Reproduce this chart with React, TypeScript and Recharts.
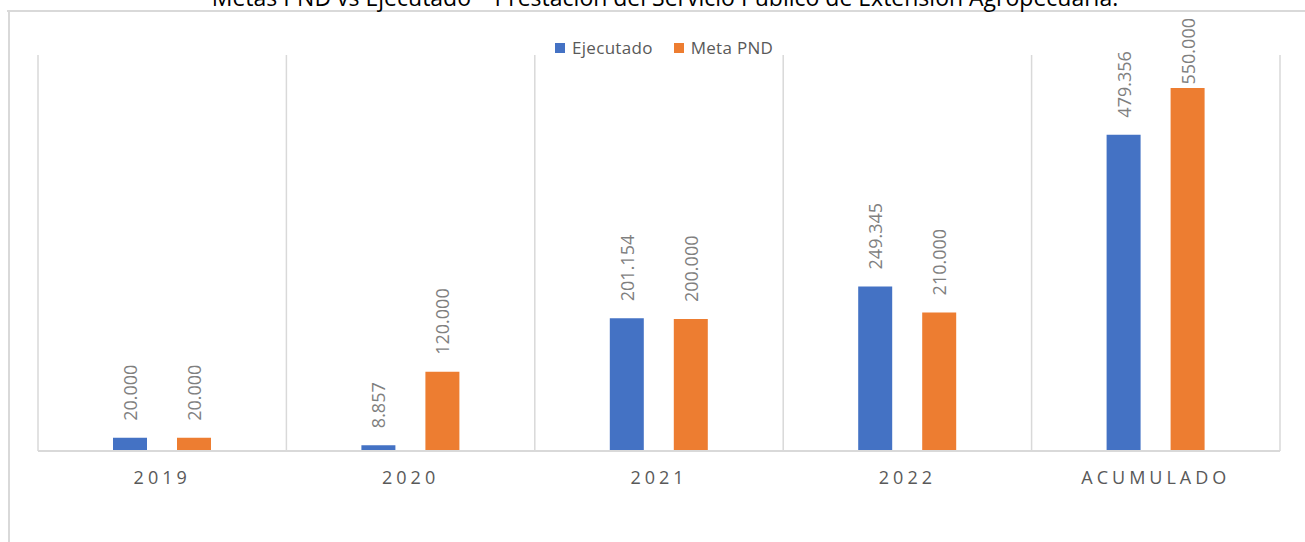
import React from "react";
import { BarChart, Bar, XAxis, YAxis, CartesianGrid, LabelList } from "recharts";

const categories = ["2019", "2020", "2021", "2022", "ACUMULADO"];
const ejecutado = [20000, 8857, 201154, 249345, 479356];
const metaPND = [20000, 120000, 200000, 210000, 550000];
const seriesNames = ["Ejecutado", "Meta PND"];
const seriesColors = ["#4472C4", "#ED7D31"];
const titleText = "Metas PND vs Ejecutado – Prestación del Servicio Público de Extensión Agropecuaria.";

const data = categories.map((c, i) => ({ name: c, ejecutado: ejecutado[i], meta: metaPND[i] }));

const fmt = (v: number) => v.toString().replace(/\B(?=(\d{3})+(?!\d))/g, ".");

const W = 1305;
const H = 542;
const FONT = "'Open Sans', sans-serif";
const LABEL_MIN_TOP = 18;

const RotLabel = (props: any) => {
  const { x, y, width, value } = props;
  const txt = fmt(Number(value));
  const cx = Number(x) + Number(width) / 2;
  const approxLen = txt.length * 9.5;
  const ty = Math.max(Number(y) - 17, LABEL_MIN_TOP + approxLen);
  return (
    <text
      x={cx}
      y={ty}
      transform={`rotate(-90 ${cx} ${ty})`}
      textAnchor="start"
      dominantBaseline="central"
      fill="#7f7f7f"
      fontSize={18}
      fontFamily={FONT}
    >
      {txt}
    </text>
  );
};

const Tick = (props: any) => {
  const { x, y, payload } = props;
  return (
    <text
      x={x}
      y={y}
      dy={25}
      textAnchor="middle"
      fill="#595959"
      fontSize={18}
      fontFamily={FONT}
      letterSpacing={4}
    >
      {payload.value}
    </text>
  );
};

export default function App() {
  return (
    <div style={{ position: "absolute", left: 0, top: 0, width: W, height: H, background: "#fff" }}>
      <BarChart
        width={W}
        height={H}
        data={data}
        margin={{ top: 55, right: 25, bottom: 61, left: 38 }}
        barSize={34}
        barGap={30}
      >
        <CartesianGrid
          horizontal={false}
          vertical={true}
          stroke="#d9d9d9"
          strokeWidth={1.5}
          verticalCoordinatesGenerator={({ offset }: any) =>
            categories.map((_, i) => offset.left + (i * offset.width) / categories.length).concat([offset.left + offset.width])
          }
        />
        <XAxis
          dataKey="name"
          axisLine={{ stroke: "#d9d9d9", strokeWidth: 2 }}
          tickLine={false}
          tick={<Tick />}
          height={30}
          interval={0}
        />
        <YAxis hide domain={[0, 600000]} />
        <Bar dataKey="ejecutado" name={seriesNames[0]} fill={seriesColors[0]} isAnimationActive={false}>
          <LabelList dataKey="ejecutado" content={<RotLabel />} />
        </Bar>
        <Bar dataKey="meta" name={seriesNames[1]} fill={seriesColors[1]} isAnimationActive={false}>
          <LabelList dataKey="meta" content={<RotLabel />} />
        </Bar>
      </BarChart>
      <div
        style={{
          position: "absolute",
          left: 555,
          top: 37,
          display: "flex",
          alignItems: "center",
          fontFamily: FONT,
          fontSize: 17,
          lineHeight: "22px",
          color: "#595959",
          letterSpacing: 0.3,
          whiteSpace: "nowrap",
        }}
      >
        {seriesNames.map((n, i) => (
          <div key={n} style={{ display: "flex", alignItems: "center", marginRight: i === 0 ? 21 : 0 }}>
            <span style={{ display: "inline-block", width: 10, height: 10, background: seriesColors[i], marginRight: 7 }} />
            <span>{n}</span>
          </div>
        ))}
      </div>
      <svg width={W} height={H} style={{ position: "absolute", left: 0, top: 0, pointerEvents: "none" }}>
        <line x1={7} y1={11} x2={W} y2={11} stroke="#d9d9d9" strokeWidth={2} />
        <line x1={9} y1={10} x2={9} y2={H} stroke="#d9d9d9" strokeWidth={2} />
        <text x={665} y={6} textAnchor="middle" fill="#000" fontSize={23} fontFamily={FONT}>
          {titleText}
        </text>
      </svg>
    </div>
  );
}
